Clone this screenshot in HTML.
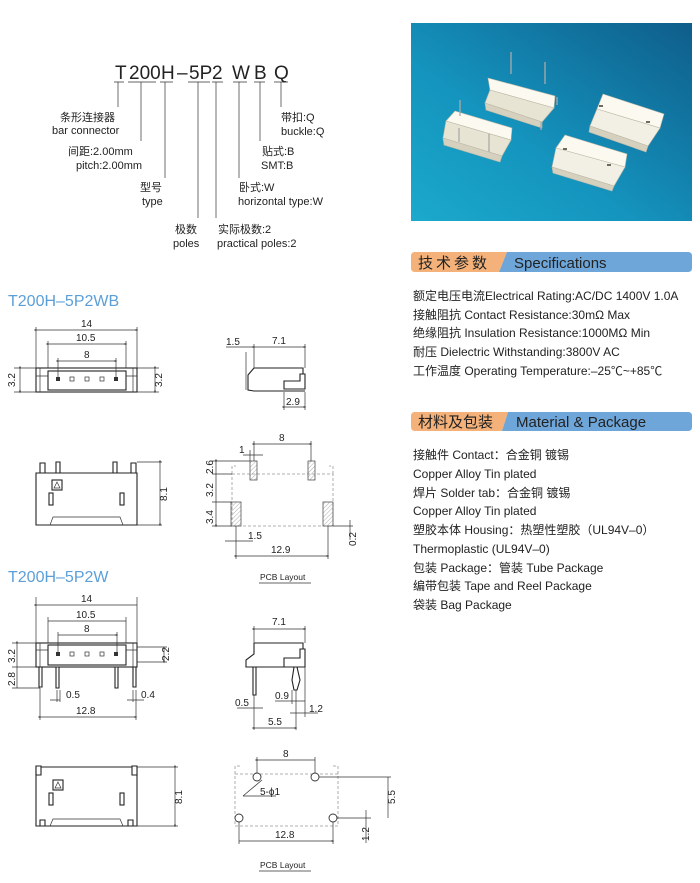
<!DOCTYPE html>
<html><head><meta charset="utf-8"><style>
html,body{margin:0;padding:0;background:#fff;}
svg{display:block;}
text{font-family:"Liberation Sans","Noto Sans CJK SC",sans-serif;fill:#222;}
.d{stroke:#333;stroke-width:0.7;fill:none;}
.dm{stroke:#333;stroke-width:0.7;fill:none;marker-start:url(#a);marker-end:url(#a);}
.o{stroke:#222;stroke-width:1.1;fill:#fff;}
.dash{stroke:#999;stroke-width:0.8;fill:none;stroke-dasharray:3,2;}
.s{font-size:10px;}
.t{font-size:11px;}
.sp{font-size:12px;}
</style></head><body>
<svg width="700" height="883" viewBox="0 0 700 883" xmlns="http://www.w3.org/2000/svg">
<defs>
<marker id="a" viewBox="0 0 6 6" refX="3" refY="3" markerWidth="4" markerHeight="4" orient="auto"><path d="M0,1 L6,3 L0,5" fill="#333"/></marker>
<linearGradient id="bg" x1="1" y1="0" x2="0" y2="1"><stop offset="0" stop-color="#0f5d8a"/><stop offset="0.6" stop-color="#1494be"/><stop offset="1" stop-color="#1ba9cc"/></linearGradient>
<pattern id="h" width="3" height="3" patternUnits="userSpaceOnUse" patternTransform="rotate(45)"><line x1="0" y1="0" x2="0" y2="3" stroke="#999" stroke-width="0.8"/></pattern>
</defs>

<!-- Part code -->
<g font-size="19">
<text x="115" y="79">T</text><text x="129" y="79">200</text><text x="161" y="79">H</text><text x="177" y="79">–</text><text x="189" y="79">5P</text><text x="212" y="79">2</text><text x="232" y="79">W</text><text x="254" y="79">B</text><text x="274" y="79">Q</text>
</g>
<g class="d">
<path d="M114 82h10 M128 82h28 M160 82h13 M188 82h22 M212 82h11 M233 82h14 M254 82h11 M274 82h14"/>
<path d="M118 82V107 M141 82V141 M165 82V178 M198 82V218 M216 82V218 M239 82V178 M260 82V141 M281 82V107"/>
</g>
<g class="t">
<text x="60" y="121">条形连接器</text><text x="52" y="134">bar connector</text>
<text x="68" y="155">间距:2.00mm</text><text x="76" y="169">pitch:2.00mm</text>
<text x="140" y="191">型号</text><text x="142" y="205">type</text>
<text x="175" y="233">极数</text><text x="173" y="247">poles</text>
<text x="218" y="233">实际极数:2</text><text x="217" y="247">practical poles:2</text>
<text x="239" y="191">卧式:W</text><text x="238" y="205">horizontal type:W</text>
<text x="262" y="155">贴式:B</text><text x="261" y="169">SMT:B</text>
<text x="281" y="121">带扣:Q</text><text x="281" y="135">buckle:Q</text>
</g>

<!-- Photo -->
<rect x="411" y="23" width="281" height="198" fill="url(#bg)"/>
<g stroke="#bdb8a6" stroke-width="0.6">
<path d="M488 78 L555 96 L554 108 L490 90 Z" fill="#fbf9f0"/><path d="M490 90 L554 108 L542 122 L485 103 Z" fill="#e8e4d4"/><path d="M485 103 L542 122 L542 128 L486 110Z" fill="#d6d1bf"/>
<path d="M455 111 L512 128 L511 140 L446 121 Z" fill="#fbf9f0"/><path d="M446 121 L511 140 L502 156 L443 138 Z" fill="#e8e4d4"/><path d="M443 138 L502 156 L500 162 L444 145Z" fill="#d6d1bf"/>
<path d="M603 94 L664 114 L660 128 L597 109 Z" fill="#fbf9f0"/><path d="M597 109 L660 128 L648 146 L590 126 Z" fill="#f2efe4"/><path d="M590 126 L648 146 L646 152 L589 132Z" fill="#d6d1bf"/>
<path d="M565 135 L627 154 L625 167 L556 148 Z" fill="#fbf9f0"/><path d="M556 148 L625 167 L614 186 L552 167 Z" fill="#f2efe4"/><path d="M552 167 L614 186 L612 191 L553 173Z" fill="#d6d1bf"/>
</g>
<g fill="#6d6a60"><rect x="599" y="105" width="4" height="2"/><rect x="646" y="121" width="4" height="2"/><rect x="563" y="148" width="4" height="2"/><rect x="607" y="164" width="4" height="2"/></g>
<g stroke="#aaa" stroke-width="1.3"><path d="M511 52v22 M545 62v22 M460 100v16 M489 134v18 M459 128v14 M557 97v8 M541 122v8"/></g>

<!-- Spec banner -->
<path d="M415 252 H507 L499 272 H415 Q411 272 411 268 V256 Q411 252 415 252Z" fill="#f4b27a"/>
<path d="M507 252 H688 Q692 252 692 256 V268 Q692 272 688 272 H499Z" fill="#6ea6d9"/>
<text x="418" y="268" font-size="15" letter-spacing="3">技术参数</text>
<text x="514" y="268" font-size="15">Specifications</text>
<g class="sp">
<text x="413" y="300">额定电压电流Electrical Rating:AC/DC 1400V 1.0A</text>
<text x="413" y="319">接触阻抗 Contact Resistance:30mΩ Max</text>
<text x="413" y="337">绝缘阻抗 Insulation Resistance:1000MΩ Min</text>
<text x="413" y="356">耐压 Dielectric Withstanding:3800V AC</text>
<text x="413" y="375">工作温度 Operating Temperature:–25℃~+85℃</text>
</g>
<path d="M415 412 H508 L502 431 H415 Q411 431 411 427 V416 Q411 412 415 412Z" fill="#f4b27a"/>
<path d="M508 412 H688 Q692 412 692 416 V427 Q692 431 688 431 H502Z" fill="#6ea6d9"/>
<text x="418" y="427" font-size="15">材料及包装</text>
<text x="516" y="427" font-size="15">Material &amp; Package</text>
<g class="sp">
<text x="413" y="459">接触件 Contact：合金铜 镀锡</text>
<text x="413" y="478">Copper Alloy Tin plated</text>
<text x="413" y="497">焊片 Solder tab：合金铜 镀锡</text>
<text x="413" y="515">Copper Alloy Tin plated</text>
<text x="413" y="534">塑胶本体 Housing：热塑性塑胶（UL94V–0）</text>
<text x="413" y="553">Thermoplastic (UL94V–0)</text>
<text x="413" y="572">包装 Package：管装 Tube Package</text>
<text x="413" y="590">编带包装 Tape and Reel Package</text>
<text x="413" y="609">袋装 Bag Package</text>
</g>

<!-- Titles -->
<text x="8" y="306" font-size="16" style="fill:#5b9fd8">T200H–5P2WB</text>
<text x="8" y="582" font-size="16" style="fill:#5b9fd8">T200H–5P2W</text>

<!-- WB front -->
<rect class="o" x="36" y="368" width="101" height="24"/>
<rect class="o" x="48" y="371" width="78" height="19"/>
<path class="d" d="M40 368v24 M133 368v24 M36 376h12 M126 376h11"/>
<g fill="#333"><rect x="56" y="377" width="4" height="4"/><rect x="70" y="377" width="4" height="4" fill="none" stroke="#333" stroke-width="0.7"/><rect x="85" y="377" width="4" height="4" fill="none" stroke="#333" stroke-width="0.7"/><rect x="100" y="377" width="4" height="4" fill="none" stroke="#333" stroke-width="0.7"/><rect x="114" y="377" width="4" height="4"/></g>
<path class="dm" d="M36 330H137"/><path class="d" d="M36 327v41 M137 327v41 M48 341v27 M126 341v27 M58 358v19 M116 358v19"/>
<path class="dm" d="M48 344H126"/><path class="dm" d="M58 361H116"/>
<text class="s" x="81" y="327">14</text><text class="s" x="76" y="341">10.5</text><text class="s" x="84" y="358">8</text>
<path class="dm" d="M20 368V392"/><path class="d" d="M14 368h22 M14 392h22 M137 368h22 M137 392h22"/><path class="dm" d="M155 368V392"/>
<text class="s" transform="translate(15 387) rotate(-90)">3.2</text><text class="s" transform="translate(162 387) rotate(-90)">3.2</text>

<!-- WB side -->
<path class="o" d="M254 368 H303 V374 H305 V389 H284 V381 H300 V374 L303 374 M254 368 L248 375 V390 L254 391 H305"/>
<path class="d" d="M246 352V390 M254 344v24 M305 344v24 M284 392v18 M305 392v18"/>
<path class="dm" d="M254 347H305"/><path class="d" d="M226 347h28"/>
<text class="s" x="272" y="344">7.1</text><text class="s" x="226" y="345">1.5</text>
<path class="dm" d="M284 407H305"/><text class="s" x="286" y="405">2.9</text>

<!-- WB bottom -->
<path class="o" d="M36 473 H137 V525 H36 Z"/>
<path class="o" d="M40 463h5v10h-5z M56 462h4v11h-4z M113 462h4v11h-4z M131 463h5v10h-5z"/>
<path class="d" d="M50 525 L53 517 H120 L123 525"/>
<rect class="o" x="52" y="480" width="10" height="10"/><path class="d" d="M54 488 L57 482 L60 488Z"/>
<rect class="o" x="49" y="493" width="4" height="12"/><rect class="o" x="120" y="493" width="4" height="12"/>
<path class="d" d="M137 462h25 M137 525h25"/><path class="dm" d="M160 462V525"/>
<text class="s" transform="translate(167 501) rotate(-90)">8.1</text>

<!-- WB PCB -->
<rect class="dash" x="232" y="474" width="101" height="52"/>
<path class="dash" d="M232 474v-8h4 M333 474v-8h-4"/>
<rect x="250" y="461" width="7" height="19" fill="url(#h)" stroke="#555" stroke-width="0.8"/>
<rect x="308" y="461" width="7" height="19" fill="url(#h)" stroke="#555" stroke-width="0.8"/>
<rect x="231" y="502" width="10" height="24" fill="url(#h)" stroke="#555" stroke-width="0.8"/>
<rect x="323" y="502" width="10" height="24" fill="url(#h)" stroke="#555" stroke-width="0.8"/>
<path class="dm" d="M254 444H311"/><path class="d" d="M254 441v20 M311 441v20 M243 455h20 M250 450v11"/>
<text class="s" x="279" y="441">8</text><text class="s" x="239" y="453">1</text>
<path class="d" d="M212 461h38 M212 474h20 M212 502h20 M212 526h20"/>
<path class="dm" d="M216 461V474 M216 474V502 M216 502V526"/>
<text class="s" transform="translate(213 474) rotate(-90)">2.6</text>
<text class="s" transform="translate(213 497) rotate(-90)">3.2</text>
<text class="s" transform="translate(213 524) rotate(-90)">3.4</text>
<path class="d" d="M225 541h28 M236 526v33 M328 526v33 M333 526h20 M350 520v20"/>
<text class="s" x="248" y="539">1.5</text>
<path class="dm" d="M236 556H328"/><text class="s" x="271" y="553">12.9</text>
<text class="s" transform="translate(356 546) rotate(-90)">0.2</text>
<text x="260" y="580" font-size="8.5">PCB Layout</text><path class="d" d="M259 583h52"/>

<!-- W front -->
<rect class="o" x="36" y="643" width="101" height="24"/>
<rect class="o" x="48" y="645" width="78" height="20"/>
<path class="d" d="M40 643v24 M133 643v24 M36 650h12 M126 650h11"/>
<g fill="#333"><rect x="56" y="652" width="4" height="4"/><rect x="70" y="652" width="4" height="4" fill="none" stroke="#333" stroke-width="0.7"/><rect x="85" y="652" width="4" height="4" fill="none" stroke="#333" stroke-width="0.7"/><rect x="100" y="652" width="4" height="4" fill="none" stroke="#333" stroke-width="0.7"/><rect x="114" y="652" width="4" height="4"/></g>
<path class="o" d="M39 667h3v20h-3z M56 667h3v21h-3z M115 667h3v21h-3z M133 667h3v20h-3z"/>
<path class="d" d="M36 597v46 M137 597v46 M48 617v26 M126 617v26 M58 632v20 M117 632v20"/>
<path class="dm" d="M36 605H137 M48 621H126 M58 635H117"/>
<text class="s" x="81" y="602">14</text><text class="s" x="76" y="618">10.5</text><text class="s" x="84" y="632">8</text>
<path class="d" d="M12 643h24 M12 667h24 M12 688h28 M137 647h30 M137 662h30"/>
<path class="dm" d="M17 643V667 M17 667V688 M164 647V662"/>
<text class="s" transform="translate(15 663) rotate(-90)">3.2</text>
<text class="s" transform="translate(15 686) rotate(-90)">2.8</text>
<text class="s" transform="translate(169 661) rotate(-90)">2.2</text>
<path class="d" d="M50 700h10 M57 690v12 M60 690v12 M127 700h17 M133 690v12 M136 690v12 M40 688v32 M136 702v18"/>
<text class="s" x="66" y="698">0.5</text><text class="s" x="141" y="698">0.4</text>
<path class="dm" d="M40 717H136"/><text class="s" x="76" y="714">12.8</text>

<!-- W side -->
<path class="o" d="M254 643 H303 V649 H305 V667 H284 V658 H300 V649 H303 M254 643 V654 L246 660 V667 H305"/>
<path class="o" d="M253 667h3v28h-3z"/><path class="o" d="M294 667 L297 667 L300 680 L297 690 L294 690 L292 680Z"/>
<path class="d" d="M254 626v17 M305 626v17 M254 695v35 M296 690v40 M292 690v14 M305 667v50"/>
<path class="dm" d="M254 629H305"/><text class="s" x="272" y="625">7.1</text>
<path class="d" d="M237 708h26 M275 701h30 M290 713h28"/>
<text class="s" x="235" y="706">0.5</text><text class="s" x="275" y="699">0.9</text><text class="s" x="309" y="712">1.2</text>
<path class="dm" d="M254 728H296"/><text class="s" x="268" y="725">5.5</text>

<!-- W bottom -->
<path class="o" d="M36 767 H137 V826 H36 Z"/>
<path class="o" d="M36 766h5v9h-5z M132 766h5v9h-5z M40 820h5v6h-5z M128 820h5v6h-5z"/>
<path class="d" d="M50 826 L53 819 H120 L123 826"/>
<rect class="o" x="53" y="780" width="10" height="10"/><path class="d" d="M55 788 L58 782 L61 788Z"/>
<rect class="o" x="49" y="793" width="4" height="12"/><rect class="o" x="120" y="793" width="4" height="12"/>
<path class="d" d="M137 767h41 M137 826h41"/><path class="dm" d="M175 767V826"/>
<text class="s" transform="translate(182 804) rotate(-90)">8.1</text>

<!-- W PCB -->
<rect class="dash" x="235" y="774" width="103" height="52"/>
<path class="dash" d="M235 774v-8h5 M338 774v-8h-5"/>
<g fill="#fff" stroke="#333" stroke-width="0.9"><circle cx="257" cy="777" r="4"/><circle cx="315" cy="777" r="4"/><circle cx="239" cy="818" r="4"/><circle cx="333" cy="818" r="4"/></g>
<path class="d" d="M257 757v16 M315 757v16 M319 777h72 M337 818h34 M239 822v22 M333 822v22 M366 810v33 M243 796 L262 780 M243 796h33"/>
<path class="dm" d="M257 760H315 M388 777V818 M239 841H333"/>
<text class="s" x="283" y="757">8</text><text class="s" x="260" y="795">5-ϕ1</text>
<text class="s" transform="translate(395 804) rotate(-90)">5.5</text>
<text class="s" transform="translate(369 841) rotate(-90)">1.2</text>
<text class="s" x="275" y="838">12.8</text>
<text x="260" y="868" font-size="8.5">PCB Layout</text><path class="d" d="M259 871h52"/>
</svg>
</body></html>
